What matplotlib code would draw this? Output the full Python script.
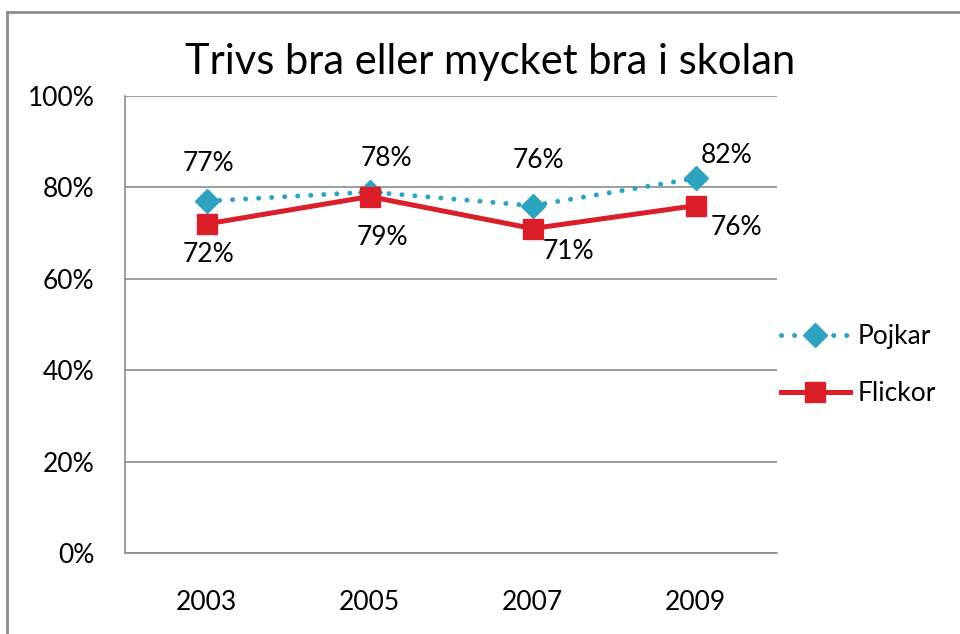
import matplotlib.pyplot as plt
from matplotlib.lines import Line2D

years = ["2003", "2005", "2007", "2009"]
pojkar = [77, 79, 76, 82]
flickor = [72, 78, 71, 76]
pojkar_labels = ["77%", "78%", "76%", "82%"]
flickor_labels = ["72%", "79%", "71%", "76%"]

# label offsets in pixels (layout only)
pojkar_offsets = [(2, 38), (17, 33), (6, 45), (31, 23)]
flickor_offsets = [(2, -31), (13, -41), (36, -23), (41, -22)]

plt.rcParams["font.family"] = ["Lato", "DejaVu Sans"]

fig = plt.figure(figsize=(9.6, 6.34), dpi=100)
ax = fig.add_axes([125 / 960, 81 / 634, 652 / 960, 457 / 634])

x = list(range(len(years)))
blue = "#2EA3C0"
red = "#DA1F2B"

ax.plot(x, pojkar, color=blue, linestyle=(0, (0.01, 2.6)), linewidth=3.6,
        marker="D", markersize=12, dash_capstyle="round", label="Pojkar", zorder=3)
ax.plot(x, flickor, color=red, linewidth=3.6, marker="s", markersize=14,
        label="Flickor", zorder=4)

for xi, v, lab, off in zip(x, pojkar, pojkar_labels, pojkar_offsets):
    ax.annotate(lab, (xi, v), xytext=off, textcoords="offset pixels",
                ha="center", va="center", fontsize=19)
for xi, v, lab, off in zip(x, flickor, flickor_labels, flickor_offsets):
    ax.annotate(lab, (xi, v), xytext=off, textcoords="offset pixels",
                ha="center", va="center", fontsize=19)

ax.set_xlim(-0.5, 3.5)
ax.set_ylim(0, 100)
ax.set_yticks([0, 20, 40, 60, 80, 100])
ax.set_yticklabels([f"{t}%" for t in range(0, 101, 20)], fontsize=19)
ax.set_xticks(x)
ax.set_xticklabels(years, fontsize=19)
ax.tick_params(axis="both", length=0)
ax.tick_params(axis="y", pad=22)
ax.tick_params(axis="x", pad=27)
ax.grid(axis="y", color="#8c8c8c", linewidth=1.2)
ax.set_axisbelow(True)
for s in ["top", "right"]:
    ax.spines[s].set_visible(False)
for s in ["left", "bottom"]:
    ax.spines[s].set_color("#8c8c8c")
    ax.spines[s].set_linewidth(1.2)

fig.text(490 / 960, 1 - 62 / 634, "Trivs bra eller mycket bra i skolan",
         ha="center", va="center", fontsize=30)

ax.legend(loc="center left", bbox_to_anchor=(781 / 960, 1 - 365 / 634),
          bbox_transform=fig.transFigure, frameon=False, fontsize=19,
          handlelength=2.6, labelspacing=1.2, handletextpad=0.3,
          borderpad=0, borderaxespad=0)

# outer chart frame
frame = dict(color="#8c8c8c", linewidth=2, transform=fig.transFigure)
fig.add_artist(Line2D([7 / 960, 7 / 960], [0, 1 - 12 / 634], **frame))
fig.add_artist(Line2D([7 / 960, 1], [1 - 12 / 634, 1 - 12 / 634], **frame))

fig.savefig("out.png", dpi=100)
